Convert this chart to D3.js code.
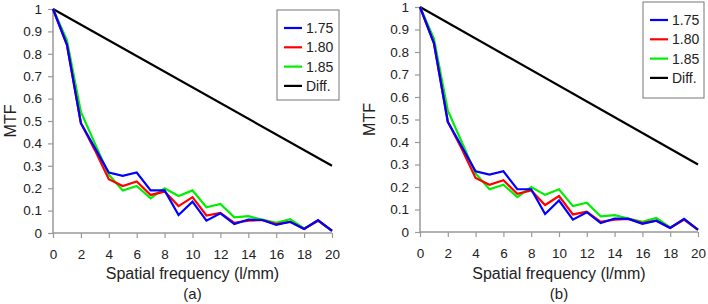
<!DOCTYPE html>
<html>
<head>
<meta charset="utf-8">
<script src="https://cdn.jsdelivr.net/npm/d3@7"></script>
<style>
body { margin: 0; background: #fff; }
text { font-family: Arial, "Liberation Sans", sans-serif; fill: #222; }
</style>
</head>
<body>
<script>
// Data
var freq = [0,1,2,3,4,5,6,7,8,9,10,11,12,13,14,15,16,17,18,19,20];
var mtf175 = [1,0.84,0.49,0.38,0.27,0.255,0.27,0.19,0.19,0.08,0.14,0.055,0.088,0.04,0.06,0.058,0.036,0.05,0.018,0.058,0.01];
var mtf180 = [1,0.84,0.49,0.37,0.24,0.21,0.23,0.17,0.185,0.12,0.16,0.078,0.09,0.045,0.055,0.058,0.04,0.05,0.018,0.055,0.01];
var mtf185 = [1,0.86,0.54,0.40,0.26,0.19,0.21,0.155,0.20,0.165,0.19,0.115,0.13,0.07,0.075,0.06,0.045,0.062,0.02,0.055,0.01];
var diffFreq = [0, 20];
var diffMtf = [1, 0.3];
var legendLabels = ["1.75", "1.80", "1.85", "Diff."];
var colors = ["#0000ff", "#ff0000", "#00ee00", "#000000"];
var xTicks = [0,2,4,6,8,10,12,14,16,18,20];
var yTicks = [0,0.1,0.2,0.3,0.4,0.5,0.6,0.7,0.8,0.9,1];

var series = [
    {name: legendLabels[0], x: freq, y: mtf175, color: colors[0]},
    {name: legendLabels[1], x: freq, y: mtf180, color: colors[1]},
    {name: legendLabels[2], x: freq, y: mtf185, color: colors[2]},
    {name: legendLabels[3], x: diffFreq, y: diffMtf, color: colors[3]}
];

var panels = [
    {tag: "(a)", x0: 53, x1: 332, y0: 233, y1: 9, legX: 277, legY: 10, legW: 62, legH: 90, yLabX: 16},
    {tag: "(b)", x0: 420, x1: 698, y0: 232, y1: 7, legX: 643, legY: 2, legW: 61, legH: 96, yLabX: 375}
];

var svg = d3.select("body").append("svg")
    .attr("width", 708)
    .attr("height", 304);

function drawPanel(p)
{
    var g = svg.append("g");
    var x = d3.scaleLinear().domain([0, 20]).range([p.x0, p.x1]);
    var y = d3.scaleLinear().domain([0, 1]).range([p.y0, p.y1]);

    var xAxis = g.append("g")
        .attr("transform", "translate(0," + p.y0 + ")")
        .call(d3.axisBottom(x).tickValues(xTicks).tickSize(5).tickPadding(11).tickFormat(d3.format("d")));
    var yAxis = g.append("g")
        .attr("transform", "translate(" + p.x0 + ",0)")
        .call(d3.axisLeft(y).tickValues(yTicks).tickSize(5).tickPadding(6).tickFormat(function(d) { return d === 0 || d === 1 ? d : d3.format(".1f")(d); }));

    [xAxis, yAxis].forEach(function(a) {
        a.select(".domain").attr("stroke", "#999").attr("stroke-width", 1.5);
        a.selectAll(".tick line").attr("stroke", "#999").attr("stroke-width", 1.2);
        a.selectAll("text").style("font-size", "13.5px").attr("fill", "#222");
    });
    xAxis.select(".domain").attr("d", "M" + p.x0 + ",0H" + p.x1);
    yAxis.select(".domain").attr("d", "M0," + p.y0 + "V" + p.y1);

    var line = d3.line()
        .x(function(d) { return x(d[0]); })
        .y(function(d) { return y(d[1]); });

    // draw in reverse order so blue ends on top
    series.slice().reverse().forEach(function(s) {
        g.append("path")
            .datum(d3.zip(s.x, s.y))
            .attr("d", line)
            .attr("fill", "none")
            .attr("stroke", s.color)
            .attr("stroke-width", 2.2);
    });

    g.append("text")
        .attr("x", (p.x0 + p.x1) / 2)
        .attr("y", 279)
        .attr("text-anchor", "middle")
        .style("font-size", "16px")
        .text("Spatial frequency (l/mm)");

    g.append("text")
        .attr("x", (p.x0 + p.x1) / 2)
        .attr("y", 299)
        .attr("text-anchor", "middle")
        .style("font-size", "15px")
        .text(p.tag);

    g.append("text")
        .attr("transform", "translate(" + p.yLabX + "," + ((p.y0 + p.y1) / 2) + ") rotate(-90)")
        .attr("text-anchor", "middle")
        .style("font-size", "16px")
        .text("MTF");

    var leg = g.append("g").attr("transform", "translate(" + p.legX + "," + p.legY + ")");
    leg.append("rect")
        .attr("width", p.legW)
        .attr("height", p.legH)
        .attr("fill", "#fff")
        .attr("stroke", "#777")
        .attr("stroke-width", 1);
    series.forEach(function(s, i) {
        var cy = 18 + i * 19.3;
        leg.append("line")
            .attr("x1", 7).attr("x2", 25)
            .attr("y1", cy).attr("y2", cy)
            .attr("stroke", s.color)
            .attr("stroke-width", 2.2);
        leg.append("text")
            .attr("x", 29)
            .attr("y", cy + 5)
            .style("font-size", "14px")
            .text(s.name);
    });
}

panels.forEach(drawPanel);
</script>
</body>
</html>
